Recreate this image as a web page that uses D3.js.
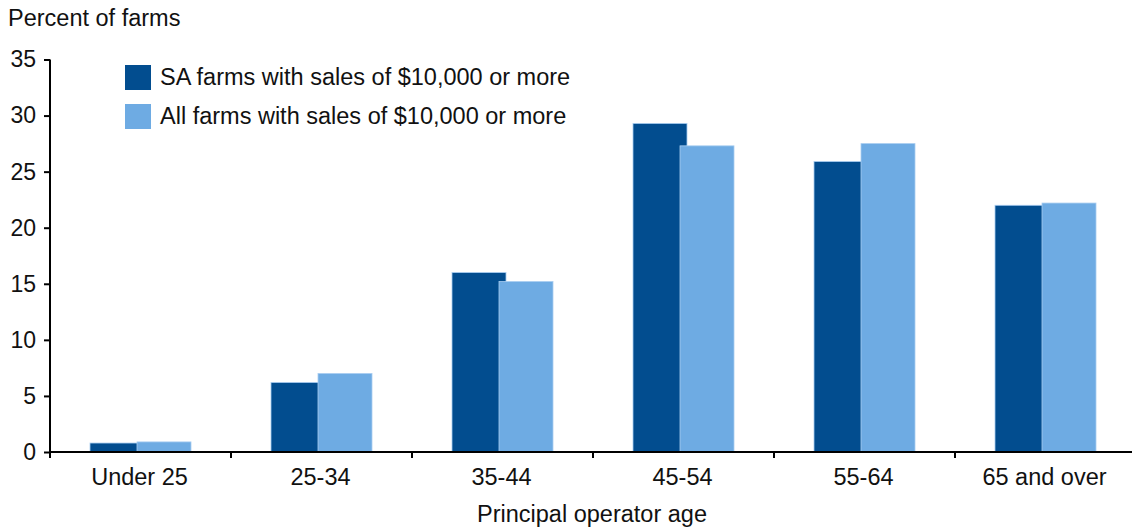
<!DOCTYPE html>
<html>
<head>
<meta charset="utf-8">
<script src="https://cdn.jsdelivr.net/npm/d3@7"></script>
<style>
  html, body { margin: 0; padding: 0; background: #fff; }
  svg { display: block; font-family: "Liberation Sans", Arial, Helvetica, sans-serif; }
</style>
</head>
<body>
<svg id="chart" width="1132" height="529"></svg>
<script>
const categories = ["Under 25", "25-34", "35-44", "45-54", "55-64", "65 and over"];
const saFarms = [0.8, 6.2, 16.0, 29.3, 25.9, 22.0];
const allFarms = [0.9, 7.0, 15.2, 27.3, 27.5, 22.2];
const seriesNames = ["SA farms with sales of $10,000 or more", "All farms with sales of $10,000 or more"];
const seriesColors = ["#024d8f", "#6eabe3"];
const yTicks = [0, 5, 10, 15, 20, 25, 30, 35];

const svg = d3.select("#chart");
const x0 = 50, x1 = 1136, yBottom = 452, yTop = 59.5;
const FS = 23.5;

const x = d3.scaleBand().domain(categories).range([x0, x1]).padding(0);
const y = d3.scaleLinear().domain([0, 35]).range([yBottom, yTop]);

const barW = 54;
const offsets = [-50.5, -3.5];
const series = [saFarms, allFarms];

series.forEach((vals, si) => {
  svg.append("g").selectAll("rect").data(vals).join("rect")
    .attr("x", (d, i) => x(categories[i]) + x.bandwidth() / 2 + offsets[si])
    .attr("y", d => y(d))
    .attr("width", barW)
    .attr("height", d => yBottom - y(d))
    .attr("fill", seriesColors[si])
    .attr("stroke", "#a9cdf0")
    .attr("stroke-width", 0.8);
});

// Y axis
const yAxis = svg.append("g").attr("transform", `translate(${x0},0)`)
  .call(d3.axisLeft(y).tickValues(yTicks).tickSize(6).tickPadding(8).tickFormat(d3.format("d")));
yAxis.select(".domain").remove();
yAxis.selectAll(".tick line").attr("stroke", "#000").attr("stroke-width", 2);
yAxis.selectAll(".tick text").attr("font-size", 23).attr("fill", "#111")
  .attr("font-family", "'Liberation Sans', Arial, sans-serif");
svg.append("line").attr("x1", x0).attr("x2", x0).attr("y1", yTop).attr("y2", yBottom + 6)
  .attr("stroke", "#000").attr("stroke-width", 2);

// X axis
const boundaries = categories.map(c => x(c));
svg.append("line").attr("x1", x0).attr("x2", 1132).attr("y1", yBottom).attr("y2", yBottom)
  .attr("stroke", "#000").attr("stroke-width", 2);
svg.append("g").selectAll("line").data(boundaries.slice(1)).join("line")
  .attr("x1", d => d).attr("x2", d => d).attr("y1", yBottom).attr("y2", yBottom + 6)
  .attr("stroke", "#000").attr("stroke-width", 2);
svg.append("g").selectAll("text").data(categories).join("text")
  .attr("x", d => x(d) + x.bandwidth() / 2 - 1)
  .attr("y", 485)
  .attr("text-anchor", "middle")
  .attr("font-size", FS).attr("fill", "#111")
  .text(d => d);

// Titles
svg.append("text").attr("x", 8).attr("y", 26).attr("font-size", FS).attr("fill", "#111")
  .text("Percent of farms");
svg.append("text").attr("x", (x0 + x1) / 2 - 1).attr("y", 522).attr("text-anchor", "middle")
  .attr("font-size", FS).attr("fill", "#111").text("Principal operator age");

// Legend
const legend = svg.append("g");
seriesNames.forEach((name, i) => {
  const ly = 65 + i * 39;
  legend.append("rect").attr("x", 125).attr("y", ly).attr("width", 26).attr("height", 25)
    .attr("fill", seriesColors[i]);
  legend.append("text").attr("x", 160).attr("y", ly + 20).attr("font-size", FS).attr("fill", "#111")
    .text(name);
});
</script>
</body>
</html>
